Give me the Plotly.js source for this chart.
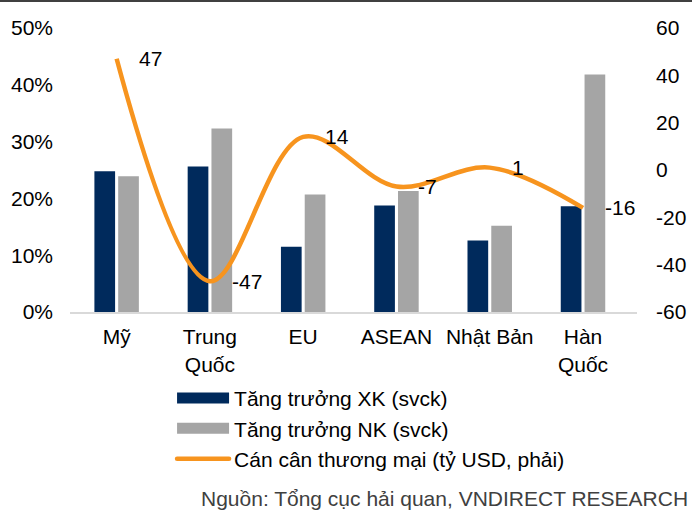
<!DOCTYPE html>
<html>
<head>
<meta charset="utf-8">
<script src="https://cdn.plot.ly/plotly-3.0.1.min.js"></script>
<style>html,body{margin:0;padding:0;background:#fff;}#chart{width:695px;height:513px;}</style>
</head>
<body>
<div id="chart"></div>
<script>
// Data
var categories = ["Mỹ", "Trung<br>Quốc", "EU", "ASEAN", "Nhật Bản", "Hàn<br>Quốc"];
var exportGrowth = [0.248, 0.256, 0.115, 0.1875, 0.126, 0.186];
var importGrowth = [0.239, 0.323, 0.207, 0.213, 0.152, 0.418];
var tradeBalance = [47, -47, 14, -7, 1, -16];
var rightTickVals = [-60, -40, -20, 0, 20, 40, 60];
var rightTickText = ["-60", "-40", "-20", "0", "20", "40", "60"];
var seriesNames = ["Tăng trưởng XK (svck)", "Tăng trưởng NK (svck)", "Cán cân thương mại (tỷ USD, phải)"];
var sourceText = "Nguồn: Tổng cục hải quan, VNDIRECT RESEARCH";

var FONT = "Liberation Sans, Arial, sans-serif";

var traces = [
  {type: "bar", name: seriesNames[0], x: categories, y: exportGrowth,
   marker: {color: "#002A5C"}, hoverinfo: "skip"},
  {type: "bar", name: seriesNames[1], x: categories, y: importGrowth,
   marker: {color: "#A5A5A5"}, hoverinfo: "skip"},
  {type: "scatter", mode: "lines", name: seriesNames[2], x: categories, y: tradeBalance,
   yaxis: "y2", line: {color: "#F7941E", width: 4.5, shape: "spline", smoothing: 1}, hoverinfo: "skip"}
];

var annotations = tradeBalance.map(function (v, i) {
  return {x: categories[i], y: v, xref: "x", yref: "y2", text: String(v),
          showarrow: false, xanchor: "left", yanchor: "middle", xshift: 20,
          font: {family: FONT, size: 21, color: "#000"}};
});
annotations.push({x: 1.093, y: -0.655, xref: "paper", yref: "paper", text: sourceText,
  showarrow: false, xanchor: "right", yanchor: "middle",
  font: {family: FONT, size: 21, color: "#404040"}});

var layout = {
  width: 695, height: 513,
  margin: {l: 70, r: 58, t: 28, b: 201},
  paper_bgcolor: "#fff", plot_bgcolor: "#fff",
  font: {family: FONT, size: 21, color: "#000"},
  barmode: "group", bargap: 0.49, bargroupgap: 0.13,
  showlegend: true,
  legend: {x: 0.18, y: -0.232, xanchor: "left", yanchor: "top", orientation: "v",
           itemwidth: 52, font: {family: FONT, size: 21, color: "#000"},
           bgcolor: "rgba(0,0,0,0)", traceorder: "normal"},
  xaxis: {type: "category", showline: true, linecolor: "#D9D9D9", linewidth: 2,
          showgrid: false, zeroline: false, ticks: "", ticklabelstandoff: 5,
          tickfont: {family: FONT, size: 21, color: "#000"}, fixedrange: true},
  yaxis: {range: [0, 0.5], dtick: 0.1, tickformat: ".0%", showgrid: false, zeroline: false,
          showline: false, ticks: "", ticklabelstandoff: 16,
          tickfont: {family: FONT, size: 21, color: "#000"}, fixedrange: true},
  yaxis2: {range: [-60, 60], tickmode: "array", tickvals: rightTickVals, ticktext: rightTickText,
           overlaying: "y", side: "right", showgrid: false,
           zeroline: false, showline: false, ticks: "", ticklabelstandoff: 18,
           tickfont: {family: FONT, size: 21, color: "#000"}, fixedrange: true},
  annotations: annotations,
  shapes: [{type: "line", xref: "paper", yref: "paper", x0: -0.1235, x1: 1.097, y0: 1.095, y1: 1.095,
            line: {color: "#000", width: 1.5}}]
};

Plotly.newPlot("chart", traces, layout, {staticPlot: true, displayModeBar: false}).then(function (gd) {
  // widen bar legend keys to match the reference's wide rectangles
  var groups = gd.querySelectorAll(".legend .traces");
  groups.forEach(function (g) {
    g.querySelectorAll("path").forEach(function (p) {
      var d = p.getAttribute("d") || "";
      if (d.indexOf("M6,6") === 0) p.setAttribute("d", "M-26,5.5H26V-5.5H-26Z");
    });
    g.querySelectorAll(".legendlines path").forEach(function (p) {
      p.style.strokeLinecap = "round";
    });
  });
});
</script>
</body>
</html>
